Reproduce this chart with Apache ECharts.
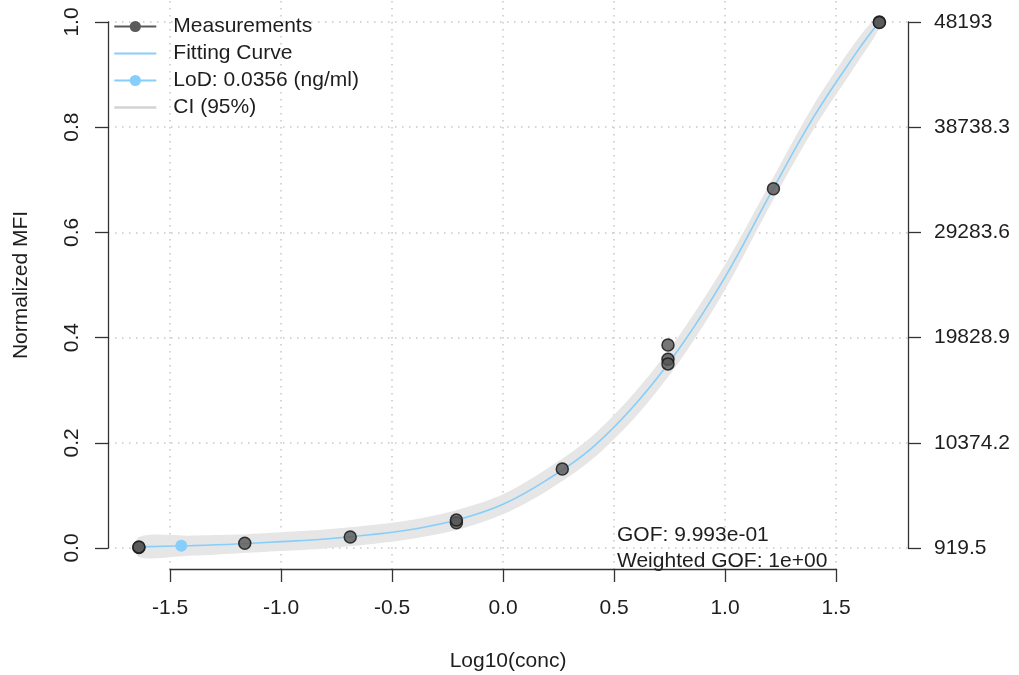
<!DOCTYPE html>
<html>
<head>
<meta charset="utf-8">
<script src="https://cdn.jsdelivr.net/npm/echarts@6/dist/echarts.min.js"></script>
<style>
  html, body { margin: 0; padding: 0; background: #ffffff; }
  #chart { width: 1019px; height: 675px; }
</style>
</head>
<body>
<div id="chart"></div>
<script>
// Standard-curve measurements: log10 concentration vs normalized MFI
const measX = [-1.640, -1.640, -1.163, -0.688, -0.210, -0.210, 0.267, 0.743, 0.743, 0.743, 1.218, 1.695, 1.695];
const measY = [0.001, 0.002, 0.009, 0.021, 0.048, 0.053, 0.150, 0.386, 0.359, 0.350, 0.683, 1.000, 0.999];

// Limit of detection: 0.0356 ng/ml
const lodX = [-1.449];
const lodY = [0.004];

// Fitted curve and its 95% confidence band
const curveX  = [-1.640, -1.400, -1.200, -1.000, -0.800, -0.600, -0.400, -0.200, 0.000, 0.200, 0.400, 0.600, 0.800, 1.000, 1.200, 1.400, 1.600, 1.694];
const curveY  = [0.002, 0.0045, 0.0075, 0.012, 0.017, 0.025, 0.036, 0.054, 0.083, 0.130, 0.190, 0.275, 0.383, 0.515, 0.670, 0.820, 0.947, 1.000];
const ciLower = [-0.017, -0.0145, -0.0105, -0.006, -0.001, 0.007, 0.018, 0.035, 0.064, 0.109, 0.168, 0.251, 0.358, 0.491, 0.649, 0.797, 0.925, 0.988];
const ciUpper = [0.021, 0.0235, 0.0255, 0.030, 0.035, 0.043, 0.054, 0.073, 0.102, 0.151, 0.212, 0.299, 0.408, 0.539, 0.691, 0.843, 0.969, 1.012];

// Axis tick labels
const xTickLabels   = ['-1.5', '-1.0', '-0.5', '0.0', '0.5', '1.0', '1.5'];
const yTickLabels   = ['0.0', '0.2', '0.4', '0.6', '0.8', '1.0'];
const mfiTickLabels = ['919.5', '10374.2', '19828.9', '29283.6', '38738.3', '48193'];

const gofLines = ['GOF: 9.993e-01', 'Weighted GOF: 1e+00'];

const FONT = '"Liberation Sans", Arial, Helvetica, sans-serif';
const TEXT = '#1e1e1e';
const AXIS = '#333333';
const BAND = '#e6e6e6';
const GRIDLINE = { show: true, lineStyle: { color: '#c8c8c8', width: 1.5, type: [1.5, 5.5] } };

const pairs = (xs, ys) => xs.map((x, i) => [x, ys[i]]);

const chart = echarts.init(document.getElementById('chart'), null, { renderer: 'canvas' });

const axisLine = { show: true, lineStyle: { color: AXIS, width: 1.3 } };
const axisTick = { show: true, inside: false, length: 13, lineStyle: { color: AXIS, width: 1.3 } };
const labelBase = { fontSize: 21, color: TEXT, fontFamily: FONT, hideOverlap: false, showMinLabel: true, showMaxLabel: true };

chart.setOption({
  animation: false,
  backgroundColor: '#ffffff',
  textStyle: { fontFamily: FONT },
  grid: [
    // data area
    { left: 108, right: 111, top: 1, bottom: 106, outerBoundsMode: 'none' },
    // bottom axis spanning the tick range
    { left: 170, right: 183, top: 1, bottom: 106, outerBoundsMode: 'none' },
    // left / right axes spanning 0..1
    { left: 108, right: 111, top: 22, bottom: 127, outerBoundsMode: 'none' }
  ],
  xAxis: [
    {
      gridIndex: 0, type: 'value', min: -1.779, max: 1.824,
      axisLine: { show: false }, axisTick: { show: false }, axisLabel: { show: false }, splitLine: { show: false },
      name: 'Log10(conc)', nameLocation: 'middle', nameGap: 82, nameMoveOverlap: false,
      nameTextStyle: { fontSize: 21, color: TEXT, fontFamily: FONT }
    },
    {
      gridIndex: 1, type: 'value', min: -1.5, max: 1.5, interval: 0.5, position: 'bottom',
      axisLine: axisLine, axisTick: axisTick, splitLine: GRIDLINE,
      axisLabel: Object.assign({}, labelBase, {
        margin: 29,
        formatter: v => xTickLabels[Math.round((v + 1.5) / 0.5)]
      })
    },
    {
      gridIndex: 2, type: 'value', min: 0, max: 1, show: false
    }
  ],
  yAxis: [
    {
      gridIndex: 0, type: 'value', min: -0.04, max: 1.04,
      axisLine: { show: false }, axisTick: { show: false }, axisLabel: { show: false }, splitLine: { show: false },
      name: 'Normalized MFI', nameLocation: 'middle', nameRotate: 90, nameGap: 76, nameMoveOverlap: false,
      nameTextStyle: { fontSize: 21, color: TEXT, fontFamily: FONT }
    },
    {
      gridIndex: 1, type: 'value', min: 0, max: 1, show: false
    },
    {
      gridIndex: 2, type: 'value', min: 0, max: 1, interval: 0.2, position: 'left',
      axisLine: axisLine, axisTick: axisTick, splitLine: GRIDLINE,
      axisLabel: Object.assign({}, labelBase, {
        rotate: 90, margin: 25,
        formatter: v => yTickLabels[Math.round(v / 0.2)]
      })
    },
    {
      gridIndex: 2, type: 'value', min: 0, max: 1, interval: 0.2, position: 'right',
      axisLine: axisLine, axisTick: axisTick, splitLine: { show: false },
      axisLabel: Object.assign({}, labelBase, {
        margin: 26,
        formatter: v => mfiTickLabels[Math.round(v / 0.2)]
      })
    }
  ],
  legend: {
    show: true, orient: 'vertical', left: 108, top: 11,
    itemWidth: 42, itemHeight: 14, itemGap: 6, selectedMode: false,
    textStyle: { fontSize: 21, color: TEXT, fontFamily: FONT, lineHeight: 20, padding: [0, 0, 0, 12] },
    data: [
      { name: 'Measurements', lineStyle: { color: '#5a5a5a', width: 2.2, opacity: 1 }, itemStyle: { color: '#5a5a5a', borderWidth: 0, opacity: 1 } },
      { name: 'Fitting Curve', lineStyle: { color: '#87CEFA', width: 2, opacity: 1 }, itemStyle: { opacity: 0 } },
      { name: 'LoD: 0.0356 (ng/ml)', lineStyle: { color: '#87CEFA', width: 2.2, opacity: 1 }, itemStyle: { color: '#87CEFA', borderWidth: 0, opacity: 1 } },
      { name: 'CI (95%)', lineStyle: { color: '#d3d3d3', width: 2.6, opacity: 1 }, itemStyle: { opacity: 0 } }
    ]
  },
  series: [
    {
      // confidence band as one filled polygon: upper edge forward, lower edge back
      name: 'CI band', type: 'custom', xAxisIndex: 0, yAxisIndex: 0, silent: true, z: 1,
      data: [0],
      renderItem: (params, api) => {
        const upper = curveX.map((x, i) => api.coord([x, ciUpper[i]]));
        const lower = curveX.map((x, i) => api.coord([x, ciLower[i]])).reverse();
        return {
          type: 'polygon',
          shape: { points: upper.concat(lower), smooth: 0.3 },
          style: { fill: BAND, stroke: null }
        };
      }
    },
    {
      // legend entry for the confidence band
      name: 'CI (95%)', type: 'line', xAxisIndex: 0, yAxisIndex: 0, data: [],
      symbol: 'none', lineStyle: { color: '#d3d3d3', width: 2.6 }
    },
    {
      name: 'Fitting Curve', type: 'line', xAxisIndex: 0, yAxisIndex: 0,
      data: pairs(curveX, curveY), symbol: 'none', smooth: 0.4,
      lineStyle: { color: '#87CEFA', width: 1.6 }, z: 2
    },
    {
      name: 'Measurements', type: 'line', xAxisIndex: 0, yAxisIndex: 0,
      data: pairs(measX, measY), symbol: 'circle', symbolSize: 12, showSymbol: true, showAllSymbol: true,
      lineStyle: { opacity: 0, width: 0, color: '#5a5a5a' },
      itemStyle: { color: 'rgba(85,85,85,0.8)', borderColor: 'rgba(25,25,25,0.85)', borderWidth: 1.5 }, z: 4
    },
    {
      name: 'LoD: 0.0356 (ng/ml)', type: 'line', xAxisIndex: 0, yAxisIndex: 0,
      data: pairs(lodX, lodY), symbol: 'circle', symbolSize: 12, showSymbol: true,
      lineStyle: { opacity: 0, width: 0, color: '#87CEFA' },
      itemStyle: { color: '#87CEFA' }, z: 5
    }
  ],
  graphic: gofLines.map((t, i) => ({
    type: 'text', x: 617, y: 535 + i * 26, z: 10,
    style: { text: t, font: '21px ' + FONT, fill: TEXT, align: 'left', verticalAlign: 'middle' }
  }))
});
</script>
</body>
</html>
